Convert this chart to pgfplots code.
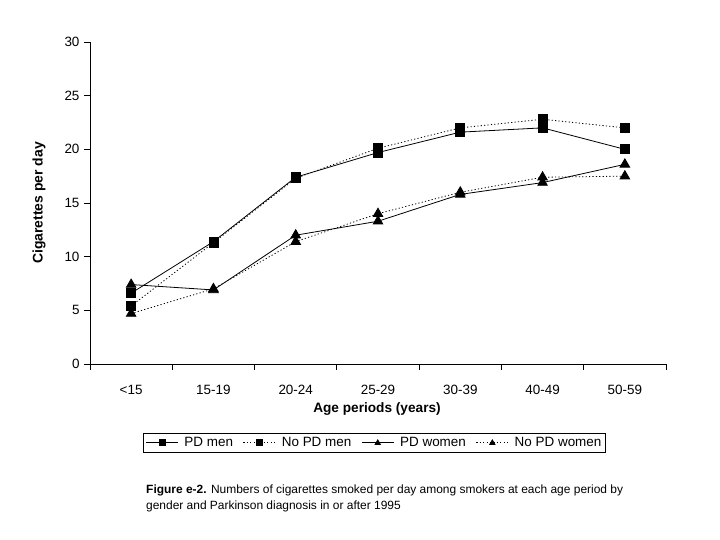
\documentclass[border=0pt]{standalone}
\usepackage{fontspec}
\setmainfont{Liberation Sans}
\usepackage{pgfplots}
\pgfplotsset{compat=1.18}
\begin{document}
\begin{tikzpicture}[x=1bp,y=1bp]
\path[use as bounding box] (0,0) rectangle (720,540);
\begin{axis}[
  at={(90bp,176bp)}, anchor=south west,
  scale only axis, width=576bp, height=322bp,
  xmin=-0.5, xmax=6.5, ymin=0, ymax=30,
  axis x line*=bottom, axis y line*=left,
  axis line style={-, line width=0.8bp},
  every tick/.style={black, line width=0.8bp},
  tick align=outside, major tick length=6bp,
  xtick={-0.5,0.5,...,6.5}, xticklabels={},
  extra x ticks={0,1,2,3,4,5,6},
  extra x tick labels={<15,15-19,20-24,25-29,30-39,40-49,50-59},
  extra x tick style={major tick length=0bp, xticklabel style={yshift=-18bp}},
  ytick={0,5,...,30},
  yticklabel style={xshift=-1bp},
  tick label style={font=\fontsize{13.5}{15}\selectfont},
  /pgf/number format/assume math mode=true,
  legend columns=4,
  legend style={at={(0.494,-0.245)}, anchor=center, draw=black, line width=0.8bp,
    font=\fontsize{13.5}{15}\selectfont, inner sep=2bp,
    /tikz/every odd column/.append style={column sep=4bp},
    /tikz/every even column/.append style={column sep=8bp}},
  legend image code/.code={\draw[mark repeat=2,mark phase=2, mark size=3bp] plot coordinates {(0bp,0bp)(16bp,0bp)(32bp,0bp)};},
]
\addplot[black, line width=0.8bp, mark=square*, mark size=4.5bp] coordinates {(0,6.6)(1,11.4)(2,17.4)(3,19.7)(4,21.6)(5,22.0)(6,20.0)};
\addlegendentry{PD men}
\addplot[black, line width=0.8bp, dash pattern=on 1.2bp off 2.2bp, mark=square*, mark size=4.5bp, mark options={solid}] coordinates {(0,5.4)(1,11.3)(2,17.3)(3,20.1)(4,22.0)(5,22.8)(6,22.0)};
\addlegendentry{No PD men}
\addplot[black, line width=0.8bp, mark=triangle*, mark size=5.5bp] coordinates {(0,7.4)(1,6.9)(2,12.0)(3,13.3)(4,15.8)(5,16.9)(6,18.6)};
\addlegendentry{PD women}
\addplot[black, line width=0.8bp, dash pattern=on 1.2bp off 2.2bp, mark=triangle*, mark size=5.5bp, mark options={solid}] coordinates {(0,4.7)(1,7.0)(2,11.4)(3,14.0)(4,16.0)(5,17.4)(6,17.5)};
\addlegendentry{No PD women}
\end{axis}
\node[rotate=90, font=\bfseries\fontsize{14}{16}\selectfont] at (39,337) {Cigarettes per day};
\node[font=\bfseries\fontsize{13.7}{16}\selectfont] at (377,131) {Age periods (years)};
\node[anchor=north west, align=left, inner sep=0pt, font=\fontsize{12}{15.5}\selectfont] at (146,55) {\textbf{Figure e-2.} Numbers of cigarettes smoked per day among smokers at each age period by\\gender and Parkinson diagnosis in or after 1995};
\end{tikzpicture}
\end{document}
